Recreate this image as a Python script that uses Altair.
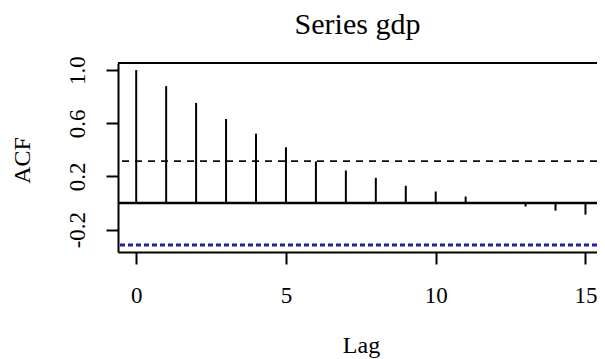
import altair as alt
import pandas as pd

lags = list(range(16))
acf_values = [1.0, 0.879, 0.753, 0.632, 0.522, 0.419, 0.313, 0.245, 0.19, 0.13,
              0.087, 0.049, 0.005, -0.026, -0.057, -0.087]
conf_limit = 0.315
y_ticks = [-0.2, 0.0, 0.2, 0.4, 0.6, 0.8, 1.0]
y_label_tenths = [-2, 2, 6, 10]
x_ticks = [0, 5, 10, 15]

SERIF = "Liberation Serif"
W, H = 479, 189
x_dom = [-0.608, 15.385]
y_dom = [-0.368, 1.053]

df = pd.DataFrame({"lag": lags, "acf": acf_values})
zero_df = pd.DataFrame({"v": [0.0]})
up_df = pd.DataFrame({"v": [conf_limit]})
lo_df = pd.DataFrame({"v": [-conf_limit]})

x_scale = alt.Scale(domain=x_dom, nice=False, zero=False)
y_scale = alt.Scale(domain=y_dom, nice=False, zero=False)

label_expr = ("indexof(%s, round(datum.value * 10)) >= 0 ? "
              "(datum.value < 0 ? '-' + format(-datum.value, '.1f') : format(datum.value, '.1f'))"
              " : ''") % str(y_label_tenths)

x_axis = alt.Axis(values=x_ticks, title="Lag", grid=False, tickSize=12, tickWidth=2,
                  tickColor="black", domainColor="black", domainWidth=2,
                  labelFont=SERIF, labelFontSize=23, labelColor="black",
                  labelBaseline="alphabetic", labelPadding=38, labelAngle=0,
                  labelOverlap=False,
                  titleFont=SERIF, titleFontSize=24, titleFontWeight="normal",
                  titleColor="black", titleX=243, titleY=100,
                  titleBaseline="alphabetic", titleAlign="center")
y_axis = alt.Axis(values=y_ticks, title="ACF", grid=False, tickSize=12, tickWidth=2,
                  tickColor="black", domainColor="black", domainWidth=2,
                  labelFont=SERIF, labelFontSize=23, labelColor="black",
                  labelAngle=270, labelAlign="center", labelBaseline="alphabetic",
                  labelPadding=22, labelExpr=label_expr, labelOverlap=False,
                  titleFont=SERIF, titleFontSize=24, titleFontWeight="normal",
                  titleColor="black", titleAngle=270, titleX=-96, titleY=97,
                  titleAlign="center", titleBaseline="middle")

spikes = alt.Chart(df).mark_rule(color="black", strokeWidth=2).encode(
    x=alt.X("lag:Q", scale=x_scale, axis=x_axis),
    y=alt.Y("acf:Q", scale=y_scale, axis=y_axis),
    y2=alt.datum(0),
)

zero_line = alt.Chart(zero_df).mark_rule(color="black", strokeWidth=2.5).encode(
    y=alt.Y("v:Q", scale=y_scale)
)
upper = alt.Chart(up_df).mark_rule(color="#0d0d1a", strokeWidth=1.8,
                                   strokeDash=[7, 6]).encode(
    y=alt.Y("v:Q", scale=y_scale)
)
lower = alt.Chart(lo_df).mark_rule(color="#1f1fa8", strokeWidth=3,
                                   strokeDash=[5, 3]).encode(
    y=alt.Y("v:Q", scale=y_scale)
)
top_border = alt.Chart(zero_df).mark_rule(color="black", strokeWidth=2).encode(
    y=alt.value(0), x=alt.value(0), x2=alt.value(W)
)

chart = alt.layer(zero_line, upper, lower, spikes, top_border).properties(
    width=W, height=H,
    title=alt.Title("Series gdp", font=SERIF, fontSize=30, fontWeight="normal",
                    color="black", anchor="middle", dx=0, offset=16),
    padding={"left": 110, "top": 55, "right": 0, "bottom": 107},
    autosize=alt.AutoSizeParams(type="none"),
).configure_view(stroke=None).configure(background="white")

chart.save("out.html", embed_options={"renderer": "svg", "actions": False})
